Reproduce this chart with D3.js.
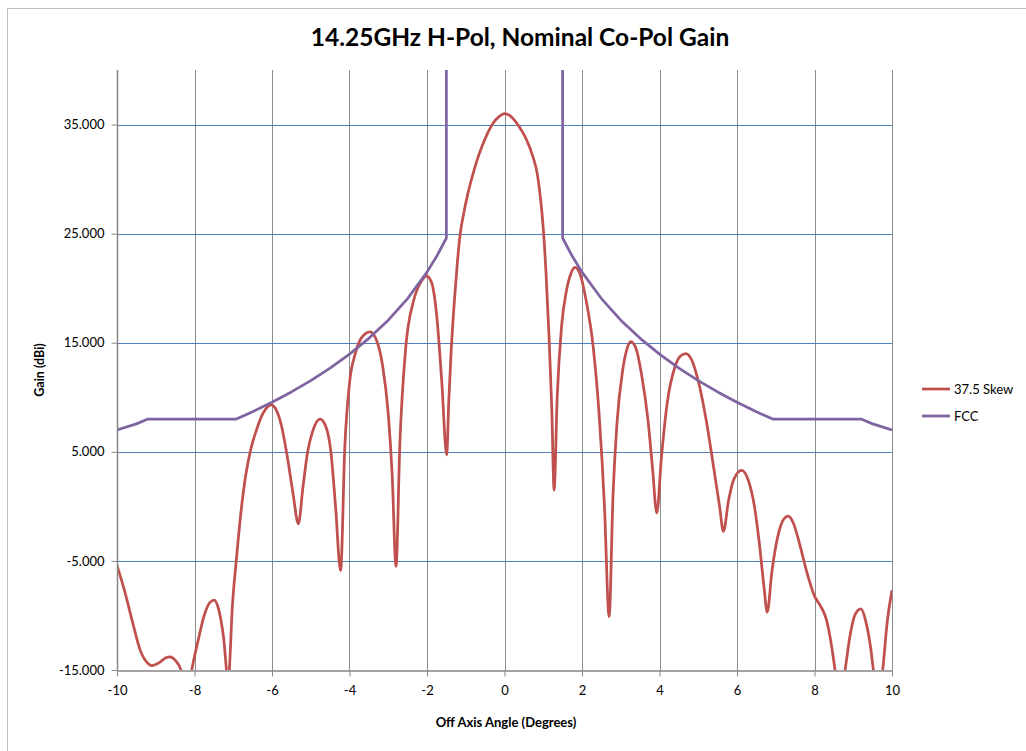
<!DOCTYPE html>
<html>
<head>
<meta charset="utf-8">
<script src="https://cdn.jsdelivr.net/npm/d3@7"></script>
<style>
  html, body { margin: 0; padding: 0; background: #fff; }
  svg { display: block; font-family: Lato, 'Open Sans', sans-serif; }
</style>
</head>
<body>
<svg id="chart" width="1026" height="751"></svg>
<script>

// angle (deg) / gain (dBi)
const skewAngles = [
  -10.00, -9.80, -9.60, -9.40, -9.20, -9.10, -8.90, -8.75, -8.63, -8.50,
  -8.35, -8.20, -8.07, -7.90, -7.75, -7.60, -7.49, -7.38, -7.25, -7.13,
  -7.02, -6.91, -6.80, -6.68, -6.55, -6.40, -6.25, -6.12, -6.03, -5.90,
  -5.75, -5.58, -5.45, -5.32, -5.20, -5.08, -4.95, -4.76, -4.62, -4.48,
  -4.36, -4.23, -4.12, -3.99, -3.85, -3.70, -3.47, -3.30, -3.15, -3.00,
  -2.90, -2.80, -2.70, -2.55, -2.35, -2.15, -2.01, -1.88, -1.75, -1.62,
  -1.49, -1.44, -1.38, -1.30, -1.22, -1.15, -1.05, -0.95, -0.85, -0.72,
  -0.58, -0.45, -0.30, -0.15, 0.00, 0.15, 0.30, 0.45, 0.57, 0.72,
  0.85, 0.93, 1.00, 1.07, 1.15, 1.22, 1.28, 1.36, 1.47, 1.60,
  1.72, 1.82, 1.95, 2.10, 2.29, 2.45, 2.58, 2.70, 2.80, 2.90,
  3.05, 3.15, 3.26, 3.40, 3.55, 3.70, 3.82, 3.93, 4.05, 4.20,
  4.40, 4.55, 4.68, 4.82, 5.00, 5.20, 5.40, 5.55, 5.65, 5.78,
  5.92, 6.12, 6.30, 6.45, 6.58, 6.70, 6.78, 6.90, 7.05, 7.20,
  7.32, 7.45, 7.62, 7.80, 8.01, 8.15, 8.31, 8.45, 8.53, 8.66,
  8.79, 8.92, 9.05, 9.20, 9.32, 9.45, 9.52, 9.64, 9.76, 9.88,
  10.00
];
const skewGain = [
  -5.4, -7.8, -10.6, -13.2, -14.4, -14.6, -14.3, -13.9, -13.8, -14.1,
  -15.0, -18.0, -15.0, -12.2, -10.0, -8.8, -8.6, -9.4, -12.0, -16.0,
  -9.0, -4.5, -0.5, 2.8, 5.2, 7.0, 8.4, 9.1, 9.3, 8.9,
  7.3, 4.0, 1.0, -1.6, 1.8, 5.0, 6.9, 8.0, 7.4, 5.0,
  0.0, -5.9, 5.5, 11.6, 14.0, 15.4, 16.0, 15.2, 13.0, 8.5,
  3.0, -5.5, 5.8, 14.5, 18.8, 20.6, 21.1, 20.5, 17.5, 11.5,
  4.7, 9.5, 14.0, 18.5, 22.2, 24.8, 26.9, 28.6, 30.0, 31.6,
  33.0, 34.1, 35.1, 35.7, 36.0, 35.8, 35.2, 34.4, 33.6, 32.2,
  30.4, 28.2, 25.5, 21.5, 15.5, 9.0, 1.5, 10.0, 16.4, 19.8,
  21.4, 21.9, 21.3, 19.0, 14.6, 8.0, 0.0, -10.1, 1.0, 7.5,
  12.5, 14.3, 15.1, 14.4, 11.8, 8.0, 3.5, -0.6, 4.5, 9.5,
  12.8, 13.8, 14.0, 13.5, 11.5, 8.0, 3.5, 0.0, -2.3, 0.5,
  2.5, 3.3, 2.3, 0.0, -3.5, -7.5, -9.7, -6.0, -2.8, -1.2,
  -0.9, -1.5, -3.5, -6.0, -8.3, -9.1, -10.4, -13.0, -15.0, -18.0,
  -15.0, -11.8, -9.9, -9.4, -10.5, -13.0, -15.0, -18.0, -15.0, -10.5,
  -7.7
];

// FCC mask, goes off the top of the plot inside +/-1.5 deg
const fccAngles = [
  -10, -9.5, -9.2, -6.92, -6.5, -6, -5.5, -5, -4.5, -4, -3.5, -3, -2.5, -2, -1.75, -1.5, -1.5,
  1.5, 1.5, 1.75, 2, 2.5, 3, 3.5, 4, 4.5, 5, 5.5, 6, 6.5, 6.92, 9.2, 9.5, 10
];
const fccGain = [
  7.0, 7.56, 8.0, 8.0, 8.68, 9.55, 10.49, 11.53, 12.67, 13.95, 15.40, 17.07, 19.05, 21.47, 22.92, 24.60, 60,
  60, 24.60, 22.92, 21.47, 19.05, 17.07, 15.40, 13.95, 12.67, 11.53, 10.49, 9.55, 8.68, 8.0, 8.0, 7.56, 7.0
];

const xTicks = [-10, -8, -6, -4, -2, 0, 2, 4, 6, 8, 10];
const yTicks = [-15, -5, 5, 15, 25, 35];

const seriesNames = ['37.5 Skew', 'FCC'];
const seriesColors = ['#C0504D', '#8064A2'];


/**
 * Excel-like line chart.
 * @class
 */
class GainChart {


  /**
   * @constructor
   * @param {SVGElement} svg
   */
  constructor(svg) {

    this._svg = d3.select(svg);
    this._plot = { left: 117, right: 892, top: 70, bottom: 670 };

    this._xScale = d3.scaleLinear()
      .domain([-10, 10])
      .range([this._plot.left, this._plot.right]);

    this._yScale = d3.scaleLinear()
      .domain([-15, 40])
      .range([this._plot.bottom, this._plot.top]);
  }


  /**
   * Draw everything.
   * @returns {GainChart}
   */
  render() {

    this.renderFrame();
    this.renderGrid();
    this.renderSeries();
    this.renderAxes();
    this.renderLegend();
    return this;
  }


  renderFrame() {

    this._svg.append('rect')
      .attr('x', 7.5)
      .attr('y', 8.5)
      .attr('width', 1040)
      .attr('height', 780)
      .style('fill', 'none')
      .style('stroke', '#bfbfbf');

    this._svg.append('text')
      .attr('x', 520)
      .attr('y', 46)
      .attr('text-anchor', 'middle')
      .style('font-size', '24.5px')
      .style('font-weight', 'bold')
      .style('fill', '#000')
      .text('14.25GHz H-Pol, Nominal Co-Pol Gain');
  }


  renderGrid() {

    const p = this._plot;

    this._svg.append('g')
      .selectAll('line')
      .data(xTicks.slice(1))
      .enter()
      .append('line')
      .attr('x1', d => Math.round(this._xScale(d)) + 0.5)
      .attr('x2', d => Math.round(this._xScale(d)) + 0.5)
      .attr('y1', p.top)
      .attr('y2', p.bottom)
      .style('stroke', '#8c8c8c')
      .style('stroke-width', 1);

    this._svg.append('g')
      .selectAll('line')
      .data(yTicks.slice(1))
      .enter()
      .append('line')
      .attr('x1', p.left)
      .attr('x2', p.right)
      .attr('y1', d => Math.round(this._yScale(d)) + 0.5)
      .attr('y2', d => Math.round(this._yScale(d)) + 0.5)
      .style('stroke', '#4F81BD')
      .style('stroke-width', 1);
  }


  renderSeries() {

    const p = this._plot;

    this._svg.append('clipPath')
      .attr('id', 'plot-clip')
      .append('rect')
      .attr('x', p.left)
      .attr('y', p.top)
      .attr('width', p.right - p.left)
      .attr('height', p.bottom - p.top);

    const skew = skewAngles.map((a, i) => [a, skewGain[i]]);
    const fcc = fccAngles.map((a, i) => [a, fccGain[i]]);

    const smooth = d3.line()
      .x(d => this._xScale(d[0]))
      .y(d => this._yScale(d[1]))
      .curve(d3.curveMonotoneX);

    const straight = d3.line()
      .x(d => this._xScale(d[0]))
      .y(d => this._yScale(d[1]));

    const g = this._svg.append('g')
      .attr('clip-path', 'url(#plot-clip)');

    g.append('path')
      .attr('d', smooth(skew))
      .style('fill', 'none')
      .style('stroke', seriesColors[0])
      .style('stroke-width', 2.75)
      .style('stroke-linejoin', 'round');

    g.append('path')
      .attr('d', straight(fcc))
      .style('fill', 'none')
      .style('stroke', seriesColors[1])
      .style('stroke-width', 2.75)
      .style('stroke-linejoin', 'round');
  }


  renderAxes() {

    const p = this._plot;
    const hyphen = s => s.replace('\u2212', '-');

    const xAxis = this._svg.append('g')
      .attr('transform', `translate(0,${p.bottom + 0.5})`)
      .call(d3.axisBottom(this._xScale)
        .tickValues(xTicks)
        .tickSize(6)
        .tickSizeOuter(0)
        .tickFormat(d => hyphen(d3.format('d')(d))));

    const yAxis = this._svg.append('g')
      .attr('transform', `translate(${p.left + 0.5},0)`)
      .call(d3.axisLeft(this._yScale)
        .tickValues(yTicks)
        .tickSize(6)
        .tickSizeOuter(0)
        .tickFormat(d => hyphen(d3.format('.3f')(d))));

    [xAxis, yAxis].forEach(axis => {
      axis.select('.domain').style('stroke', '#868686').style('stroke-width', 1.5);
      axis.selectAll('.tick line').style('stroke', '#868686');
      axis.selectAll('.tick text')
        .style('font-family', 'Lato, sans-serif')
        .style('font-size', '13px')
        .style('fill', '#000');
    });

    // extend y domain up to the plot top
    yAxis.select('.domain').attr('d', `M0,${p.top}V${p.bottom}`);
    xAxis.selectAll('.tick text').attr('dy', '1.2em');
    yAxis.selectAll('.tick text').attr('x', -13);

    this._svg.append('text')
      .attr('x', 506)
      .attr('y', 727)
      .attr('text-anchor', 'middle')
      .style('font-size', '13px')
      .style('font-weight', 'bold')
      .text('Off Axis Angle (Degrees)');

    this._svg.append('text')
      .attr('transform', 'translate(44,370) rotate(-90)')
      .attr('text-anchor', 'middle')
      .style('font-size', '12.5px')
      .style('font-weight', 'bold')
      .text('Gain (dBi)');
  }


  renderLegend() {

    const items = this._svg.append('g')
      .selectAll('g')
      .data(seriesNames)
      .enter()
      .append('g')
      .attr('transform', (d, i) => `translate(922,${389 + i * 27})`);

    items.append('line')
      .attr('x1', 0)
      .attr('x2', 28)
      .style('stroke', (d, i) => seriesColors[i])
      .style('stroke-width', 2.75);

    items.append('text')
      .attr('x', 32)
      .attr('dy', '0.35em')
      .style('font-size', '13px')
      .text(d => d);
  }
}


new GainChart(document.getElementById('chart')).render();
</script>
</body>
</html>
